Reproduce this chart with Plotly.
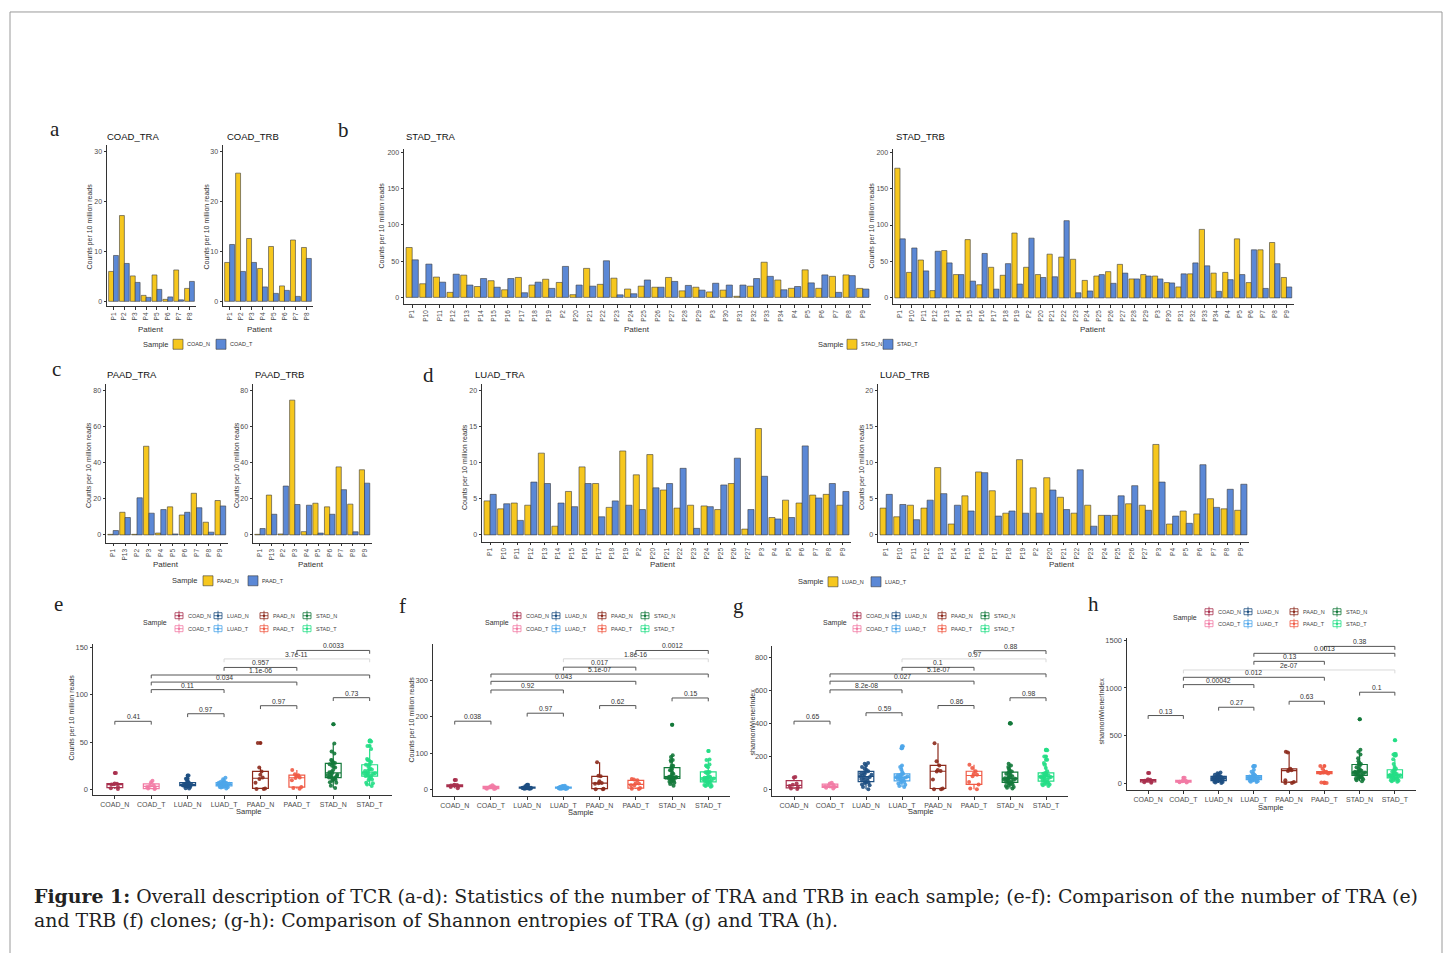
import plotly.graph_objects as go

W, H = 1452, 953
FONT = "Liberation Sans, Arial, sans-serif"
SERIF = "Liberation Serif, Times New Roman, serif"
CAPTION_FONT = "DejaVu Serif, Liberation Serif, serif"

# ---------------- data: bar panels (counts per 10 million reads) ----------------
coad_patients = ["P1", "P2", "P3", "P4", "P5", "P6", "P7", "P8"]
coad_tra_n = [6.0, 17.2, 5.1, 1.2, 5.3, 0.4, 6.3, 2.6]
coad_tra_t = [9.2, 7.6, 3.8, 0.8, 2.4, 0.9, 0.3, 4.0]
coad_trb_n = [7.8, 25.7, 12.6, 6.6, 11.0, 3.1, 12.3, 10.8]
coad_trb_t = [11.4, 6.0, 7.8, 2.9, 1.6, 2.2, 1.0, 8.6]

stad_patients = ["P1", "P10", "P11", "P12", "P13", "P14", "P15", "P16", "P17", "P18", "P19",
                 "P2", "P20", "P21", "P22", "P23", "P24", "P25", "P26", "P27", "P28", "P29",
                 "P3", "P30", "P31", "P32", "P33", "P34", "P4", "P5", "P6", "P7", "P8", "P9"]
stad_tra_n = [68.8, 18.8, 28, 6.9, 30.7, 15, 23, 10.5, 27.5, 17, 25, 20.6, 3.7, 40, 18, 26.5, 11.5,
              15.5, 14, 27.5, 9, 14, 7.5, 10, 1.5, 15.5, 48.5, 24, 12.5, 38, 12.5, 29, 31, 12.4]
stad_tra_t = [51.8, 45.9, 21, 32, 17, 26, 14, 26, 6.4, 21, 12.4, 42.7, 17, 15.5, 50.5, 3.5, 5,
              24, 14, 22, 16.5, 10, 19.5, 17, 17, 26, 29, 10.5, 15, 20, 31, 6.9, 30, 11.5]
stad_trb_n = [178, 35, 52, 10, 65, 32, 80, 18, 42, 31, 89, 42, 32, 60, 56, 53, 24,
              30, 36, 46, 26, 32, 30, 21, 15, 33, 94, 34, 35, 81, 21, 66, 76, 28]
stad_trb_t = [81, 68.5, 37, 64, 48, 32, 23, 61, 12, 47, 19, 82, 28, 29, 106, 7, 9.5,
              32, 20, 34, 26, 30, 26, 20.5, 33, 48, 44, 9, 25, 32, 66, 13, 47, 15]

paad_patients = ["P1", "P13", "P2", "P3", "P4", "P5", "P6", "P7", "P8", "P9"]
paad_tra_n = [0.3, 12.5, 0.3, 49, 1.0, 15.5, 11, 23, 7, 19]
paad_tra_t = [2.4, 9.6, 20.5, 12, 14, 0.5, 12.5, 15, 1.5, 16]
paad_trb_n = [0.3, 22, 0.5, 74.5, 1.8, 17.5, 15.5, 37.6, 17, 36]
paad_trb_t = [3.5, 11.4, 27, 16.8, 16.4, 1.0, 11.4, 25, 1.7, 28.6]

luad_patients = ["P1", "P10", "P11", "P12", "P13", "P14", "P15", "P16", "P17", "P18", "P19",
                 "P2", "P20", "P21", "P22", "P23", "P24", "P25", "P26", "P27",
                 "P3", "P4", "P5", "P6", "P7", "P8", "P9"]
luad_tra_n = [4.7, 3.6, 4.4, 4.1, 11.3, 1.2, 6.0, 9.4, 7.1, 3.8, 11.6, 8.3, 11.1, 6.2, 3.7, 4.1,
              4.0, 3.5, 7.1, 0.8, 14.7, 2.4, 4.8, 4.4, 5.5, 5.6, 4.1]
luad_tra_t = [5.6, 4.3, 2.0, 7.3, 7.1, 4.4, 3.9, 7.1, 2.5, 4.7, 4.1, 3.5, 6.5, 7.1, 9.2, 0.9,
              3.9, 6.9, 10.6, 3.5, 8.1, 2.2, 2.4, 12.3, 5.1, 7.1, 6.0]
luad_trb_n = [3.7, 2.5, 4.1, 3.7, 9.3, 1.5, 5.4, 8.7, 6.1, 3.0, 10.4, 6.5, 7.9, 5.2, 3.0, 4.1,
              2.7, 2.7, 4.3, 4.1, 12.5, 1.5, 3.3, 2.9, 5.0, 3.6, 3.4]
luad_trb_t = [5.6, 4.2, 2.1, 4.8, 5.7, 4.1, 3.3, 8.6, 2.6, 3.3, 3.0, 3.0, 6.2, 3.5, 9.0, 1.2,
              2.7, 5.4, 6.8, 3.4, 7.3, 2.6, 1.6, 9.7, 3.8, 6.3, 7.0]

# ---------------- data: Shannon-Wiener index (g, h) ----------------
g_coad_n = [2, 5, 12, 20, 28, 35, 72, 75]
g_coad_t = [5, 10, 15, 18, 22, 28, 35, 40]
g_luad_n = [0, 15, 25, 30, 38, 40, 45, 52, 58, 62, 68, 72, 75, 78, 82, 88, 92, 98, 102, 105,
            110, 118, 125, 135, 145, 155, 160]
g_luad_t = [15, 20, 28, 35, 42, 45, 50, 55, 60, 65, 68, 70, 72, 73, 75, 78, 80, 85, 88, 92,
            95, 105, 120, 135, 145, 250, 262]
g_paad_n = [0, 0, 5, 60, 108, 112, 118, 145, 170, 280]
g_paad_t = [0, 5, 30, 45, 80, 88, 95, 110, 130, 150]
g_stad_n = [5, 10, 15, 20, 25, 30, 35, 38, 42, 45, 50, 55, 58, 60, 63, 65, 66, 68, 70, 75,
            80, 85, 90, 95, 100, 105, 108, 115, 125, 135, 145, 155, 400, 402]
g_stad_t = [20, 25, 30, 32, 35, 38, 40, 45, 50, 55, 60, 65, 70, 72, 74, 75, 76, 78, 80, 82,
            85, 88, 90, 95, 98, 100, 110, 130, 150, 160, 180, 200, 238, 240]

h_coad_n = [3, 8, 15, 25, 30, 35, 40, 105]
h_coad_t = [5, 8, 12, 15, 20, 25, 30, 55]
h_luad_n = [0, 5, 10, 15, 18, 20, 25, 30, 35, 38, 40, 42, 45, 46, 50, 55, 58, 60, 65, 68,
            70, 75, 80, 88, 95, 102, 110]
h_luad_t = [10, 15, 20, 25, 28, 30, 35, 40, 45, 50, 52, 55, 56, 58, 60, 62, 65, 70, 75, 78,
            80, 90, 100, 120, 140, 175, 180]
h_paad_n = [0, 0, 10, 30, 128, 135, 140, 150, 320, 330]
h_paad_t = [0, 5, 100, 105, 110, 112, 115, 120, 150, 180]
h_stad_n = [20, 30, 40, 45, 50, 55, 60, 70, 80, 85, 90, 95, 100, 105, 110, 112, 115, 118, 120, 125,
            130, 140, 150, 165, 180, 195, 200, 210, 230, 260, 300, 330, 350, 672]
h_stad_t = [15, 20, 25, 30, 35, 40, 45, 50, 55, 60, 65, 70, 75, 78, 80, 82, 84, 86, 88, 90,
            95, 100, 110, 120, 130, 140, 150, 170, 200, 250, 290, 300, 305, 450]

samples = ["COAD_N", "COAD_T", "LUAD_N", "LUAD_T", "PAAD_N", "PAAD_T", "STAD_N", "STAD_T"]

# ---------------- significance comparisons ----------------
cmp_from = ["COAD_N", "LUAD_N", "PAAD_N", "STAD_N", "COAD_T", "COAD_T", "COAD_T", "LUAD_T", "LUAD_T", "PAAD_T"]
cmp_to = ["COAD_T", "LUAD_T", "PAAD_T", "STAD_T", "LUAD_T", "PAAD_T", "STAD_T", "PAAD_T", "STAD_T", "STAD_T"]
e_p_y = [72, 80, 88.5, 97, 105.5, 113.5, 121, 129, 138, 147]
e_p_label = ["0.41", "0.97", "0.97", "0.73", "0.11", "0.034", "1.1e-06", "0.957", "3.7e-11", "0.0033"]
f_p_y = [188, 210, 231, 252, 274, 298, 318, 337, 360, 383]
f_p_label = ["0.038", "0.97", "0.62", "0.15", "0.92", "0.043", "5.1e-07", "0.017", "1.8e-16", "0.0012"]
g_p_y = [414, 465, 509, 556, 604, 657, 701, 741, 792, 842]
g_p_label = ["0.65", "0.59", "0.86", "0.98", "8.2e-08", "0.027", "5.1e-07", "0.1", "0.97", "0.88"]
h_p_y = [710, 797, 860, 955, 1035, 1112, 1189, 1280, 1364, 1437]
h_p_label = ["0.13", "0.27", "0.63", "0.1", "0.00042", "0.012", "2e-07", "0.13", "0.0013", "0.38"]

# ---------------- styles ----------------
COL_N = "#F6C71E"
COL_T = "#5B88D6"
BAR_EDGE = "#3a3a3a"
sample_colors = {"COAD_N": "#A8304E", "COAD_T": "#F27BA5", "LUAD_N": "#1E4F82", "LUAD_T": "#4EA6EA",
                 "PAAD_N": "#8C2A1C", "PAAD_T": "#F05A45", "STAD_N": "#14793B", "STAD_T": "#25DE86"}
AX = "#333333"
TICK = "#4d4d4d"


def fx(x):
    return x / W


def fy(y):
    return 1 - y / H


fig = go.Figure()
layout = dict(width=W, height=H, margin=dict(l=0, r=0, t=0, b=0),
              paper_bgcolor="white", plot_bgcolor="white", showlegend=False,
              barmode="group", bargap=0.1, bargroupgap=0,
              boxmode="overlay", boxgap=0.38,
              font=dict(family=FONT, color="#222"))
annotations = []
shapes = []


def txt(x, y, s, size, xa="center", ya="middle", angle=0, family=FONT, color="#222"):
    annotations.append(dict(x=fx(x), y=fy(y), xref="paper", yref="paper", text=s, showarrow=False,
                            xanchor=xa, yanchor=ya, textangle=angle,
                            font=dict(size=size, family=family, color=color)))


def make_axes(n, x0, x1, ytop, ybot, y0px, ppu, cats, yticks, xfont, yfont, xangle):
    xa = "xaxis" if n == 1 else "xaxis%d" % n
    ya = "yaxis" if n == 1 else "yaxis%d" % n
    xr = "x" if n == 1 else "x%d" % n
    yr = "y" if n == 1 else "y%d" % n
    layout[xa] = dict(domain=[fx(x0), fx(x1)], anchor=yr, type="category",
                      categoryorder="array", categoryarray=cats,
                      range=[-0.6, len(cats) - 0.4], showline=True, linecolor=AX, linewidth=1,
                      ticks="outside", ticklen=2.5, tickwidth=0.8, tickcolor=AX, tickangle=xangle,
                      tickfont=dict(size=xfont, color=TICK, family=FONT),
                      showgrid=False, zeroline=False, fixedrange=True)
    layout[ya] = dict(domain=[fy(ybot), fy(ytop)], anchor=xr,
                      range=[(y0px - ybot) / ppu, (y0px - ytop) / ppu],
                      showline=True, linecolor=AX, linewidth=1, ticks="outside", ticklen=2.5,
                      tickwidth=0.8, tickcolor=AX, tickvals=yticks,
                      tickfont=dict(size=yfont, color=TICK, family=FONT),
                      showgrid=False, zeroline=False, fixedrange=True)
    return xr, yr


# ---------------- bar panels ----------------
bar_panels = [
    (1, coad_patients, coad_tra_n, coad_tra_t, 107, 196, 143, 305, 300, 5.0, [0, 10, 20, 30], "COAD_TRA", 105, 135, 90, 225, 151, 328),
    (2, coad_patients, coad_trb_n, coad_trb_t, 223, 313, 143, 305, 300, 5.0, [0, 10, 20, 30], "COAD_TRB", 225, 135, 207, 225, 260, 328),
    (3, stad_patients, stad_tra_n, stad_tra_t, 404, 871, 147, 302.7, 296, 0.7265, [0, 50, 100, 150, 200], "STAD_TRA", 404, 135, 382, 224, 637, 328),
    (4, stad_patients, stad_trb_n, stad_trb_t, 893, 1293.5, 147, 302.7, 296.5, 0.73, [0, 50, 100, 150, 200], "STAD_TRB", 894, 135, 872, 224, 1093, 328),
    (5, paad_patients, paad_tra_n, paad_tra_t, 106, 227.5, 383, 542, 534, 1.8125, [0, 20, 40, 60, 80], "PAAD_TRA", 105, 373, 89, 464, 166, 564),
    (6, paad_patients, paad_trb_n, paad_trb_t, 253, 371.5, 383, 542, 534, 1.8125, [0, 20, 40, 60, 80], "PAAD_TRB", 253, 373, 237, 464, 311, 564),
    (7, luad_patients, luad_tra_n, luad_tra_t, 482, 851, 383, 541, 534, 7.25, [0, 5, 10, 15, 20], "LUAD_TRA", 473, 373, 465, 466, 663, 564),
    (8, luad_patients, luad_trb_n, luad_trb_t, 878, 1249, 383, 541, 534, 7.25, [0, 5, 10, 15, 20], "LUAD_TRB", 878, 373, 862, 466, 1062, 564),
]

for (n, cats, vn, vt, x0, x1, ytop, ybot, y0px, ppu, ticks, title, tx, ty, ytx, yty, xtx, xty) in bar_panels:
    xr, yr = make_axes(n, x0, x1, ytop, ybot, y0px, ppu, cats, ticks, 6.5, 7, -90)
    grp = title.split("_")[0]
    fig.add_trace(go.Bar(x=cats, y=vn, name=grp + "_N", xaxis=xr, yaxis=yr,
                         marker=dict(color=COL_N, line=dict(color=BAR_EDGE, width=0.6))))
    fig.add_trace(go.Bar(x=cats, y=vt, name=grp + "_T", xaxis=xr, yaxis=yr,
                         marker=dict(color=COL_T, line=dict(color=BAR_EDGE, width=0.6))))
    txt(tx, ty, title, 9.5, xa="left", color="#111")
    txt(ytx, yty, "Counts per 10 million reads", 7, angle=-90, color="#333")
    txt(xtx, xty, "Patient", 8, color="#333")


def bar_legend(title_right, k1, k2, y, grp):
    txt(title_right, y, "Sample", 7.5, xa="right", color="#333")
    for kx, col, lab in ((k1, COL_N, grp + "_N"), (k2, COL_T, grp + "_T")):
        shapes.append(dict(type="rect", xref="paper", yref="paper", x0=fx(kx), x1=fx(kx + 10),
                           y0=fy(y + 5), y1=fy(y - 5), fillcolor=col,
                           line=dict(color=BAR_EDGE, width=0.6)))
        txt(kx + 12, y, lab, 5.5, xa="left", color="#333")


bar_legend(170, 173, 216, 343, "COAD")
bar_legend(845, 847, 883, 343, "STAD")
bar_legend(199, 203, 248, 580, "PAAD")
bar_legend(825, 828, 871, 581, "LUAD")

# ---------------- box panels ----------------
box_panels = [
    (9, [coad_tra_n, coad_tra_t, luad_tra_n, luad_tra_t, paad_tra_n, paad_tra_t, stad_tra_n, stad_tra_t],
     93, 391.5, 643, 795, 789, 0.947, [0, 50, 100, 150], "Counts per 10 million reads", 72, 717, 248, 811,
     e_p_y, e_p_label, 8),
    (10, [coad_trb_n, coad_trb_t, luad_trb_n, luad_trb_t, paad_trb_n, paad_trb_t, stad_trb_n, stad_trb_t],
     433, 730, 643, 796, 789, 0.3633, [0, 100, 200, 300], "Counts per 10 million reads", 412, 719, 580, 812,
     f_p_y, f_p_label, 8),
    (11, [g_coad_n, g_coad_t, g_luad_n, g_luad_t, g_paad_n, g_paad_t, g_stad_n, g_stad_t],
     772.4, 1067.6, 645, 795.7, 789, 0.165, [0, 200, 400, 600, 800], "shannonWienerIndex", 752, 722, 920, 811,
     g_p_y, g_p_label, 8),
    (12, [h_coad_n, h_coad_t, h_luad_n, h_luad_t, h_paad_n, h_paad_t, h_stad_n, h_stad_t],
     1127, 1416, 637, 790, 782.7, 0.0953, [0, 500, 1000, 1500], "shannonWienerIndex", 1102, 711, 1270, 807,
     h_p_y, h_p_label, 6),
]

for (n, groups, x0, x1, ytop, ybot, y0px, ppu, ticks, ytitle, ytx, yty, xtx, xty, py, plab, faint_idx) in box_panels:
    xr, yr = make_axes(n, x0, x1, ytop, ybot, y0px, ppu, samples, ticks, 7, 7.5, 0)
    for s, vals in zip(samples, groups):
        c = sample_colors[s]
        fig.add_trace(go.Box(x=[s] * len(vals), y=vals, name=s, xaxis=xr, yaxis=yr,
                             boxpoints="outliers", whiskerwidth=0,
                             marker=dict(color=c, size=4),
                             line=dict(color=c, width=1.2), fillcolor="rgba(255,255,255,0)"))
        fig.add_trace(go.Box(x=[s] * len(vals), y=vals, name=s, xaxis=xr, yaxis=yr,
                             boxpoints="all", jitter=0.8, pointpos=0, whiskerwidth=0,
                             marker=dict(color=c, size=4, opacity=0.9),
                             line=dict(color="rgba(0,0,0,0)", width=0), fillcolor="rgba(0,0,0,0)"))
    yr_lo = (y0px - ybot) / ppu
    yr_hi = (y0px - ytop) / ppu
    tip = 0.022 * (yr_hi - yr_lo)
    for i, (a, b, yv, lab) in enumerate(zip(cmp_from, cmp_to, py, plab)):
        col = "#d9d9d9" if i == faint_idx else "#555555"
        fig.add_trace(go.Scatter(x=[a, a, b, b], y=[yv - tip, yv, yv, yv - tip], mode="lines",
                                 line=dict(color=col, width=1), xaxis=xr, yaxis=yr, hoverinfo="skip"))
        mid = (samples.index(a) + samples.index(b)) / 2
        annotations.append(dict(x=mid, y=yv, xref=xr, yref=yr, text=lab, showarrow=False,
                                xanchor="center", yanchor="bottom", yshift=-1,
                                font=dict(size=6.8, color="#333", family=FONT)))
    txt(ytx, yty, ytitle, 7, angle=-90, color="#333")
    txt(xtx, xty, "Sample", 7.5, color="#333")

LEG_OFF = [0, 39, 85, 128]


def box_legend(title_right, ox, ytitle, yrow1, yrow2):
    txt(title_right, ytitle, "Sample", 7, xa="right", color="#333")
    for i, grp in enumerate(["COAD", "LUAD", "PAAD", "STAD"]):
        for yy, suf in ((yrow1, "_N"), (yrow2, "_T")):
            s = grp + suf
            c = sample_colors[s]
            kx = ox + LEG_OFF[i]
            shapes.append(dict(type="rect", xref="paper", yref="paper", x0=fx(kx), x1=fx(kx + 8),
                               y0=fy(yy + 3), y1=fy(yy - 3), line=dict(color=c, width=0.8)))
            shapes.append(dict(type="line", xref="paper", yref="paper", x0=fx(kx), x1=fx(kx + 8),
                               y0=fy(yy), y1=fy(yy), line=dict(color=c, width=0.8)))
            shapes.append(dict(type="line", xref="paper", yref="paper", x0=fx(kx + 4), x1=fx(kx + 4),
                               y0=fy(yy + 5), y1=fy(yy - 5), line=dict(color=c, width=0.8)))
            shapes.append(dict(type="circle", xref="paper", yref="paper", x0=fx(kx + 2.8), x1=fx(kx + 5.2),
                               y0=fy(yy + 1.2), y1=fy(yy - 1.2), fillcolor=c, line=dict(color=c, width=0)))
            txt(kx + 11, yy, s, 5.5, xa="left", color="#444")


box_legend(169, 175, 622, 615, 628)
box_legend(511, 513, 622, 615, 628)
box_legend(849, 853, 622, 615, 628)
box_legend(1199, 1205, 617, 611, 623)

# ---------------- panel letters ----------------
for lab, x, y in (("a", 55, 127), ("b", 343, 128), ("c", 56, 368), ("d", 428, 374),
                  ("e", 58, 603), ("f", 402, 605), ("g", 738, 605), ("h", 1093, 603)):
    txt(x, y, lab, 21, family=SERIF, color="#222")

# ---------------- caption ----------------
txt(32, 896, "<b>Figure 1:</b> Overall description of TCR (a-d): Statistics of the number of TRA and TRB in each "
             "sample; (e-f): Comparison of the number of TRA (e)", 18.9, xa="left", family=CAPTION_FONT, color="#222")
txt(32, 920, "and TRB (f) clones; (g-h): Comparison of Shannon entropies of TRA (g) and TRA (h).",
    18.9, xa="left", family=CAPTION_FONT, color="#222")

# ---------------- frame ----------------
shapes.append(dict(type="rect", xref="paper", yref="paper", x0=fx(10), x1=fx(1442), y0=fy(970), y1=fy(10),
                   line=dict(color="#9a9a9a", width=1)))

layout["annotations"] = annotations
layout["shapes"] = shapes
fig.update_layout(**layout)
fig.write_html("out.html")
